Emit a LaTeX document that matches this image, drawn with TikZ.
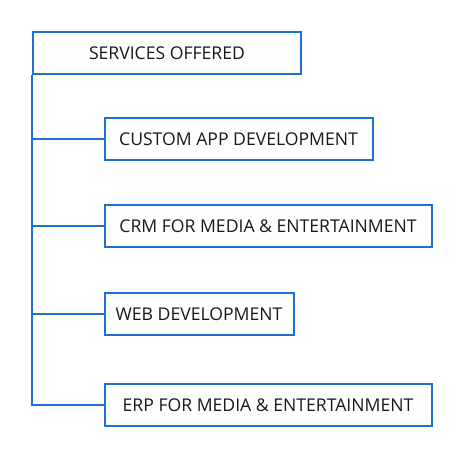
\documentclass[tikz,border=0pt]{standalone}
\usepackage{fontspec}
\setmainfont{Open Sans}
\definecolor{lineblue}{RGB}{30,112,210}
\begin{document}
\begin{tikzpicture}[x=1bp,y=-1bp,
  box/.style={draw=lineblue,line width=2bp,fill=white,minimum height=42bp,inner sep=0pt,
    font=\fontsize{17.6bp}{20bp}\selectfont,text=black!90},
  link/.style={draw=lineblue,line width=2bp}]
\useasboundingbox (0,0) rectangle (469,466);
\node[box,minimum width=268bp] (root) at (167,53) {SERVICES OFFERED};
\node[box,minimum width=268bp] (c1) at (238.5,139) {CUSTOM APP DEVELOPMENT};
\node[box,minimum width=327bp] (c2) at (268,226) {CRM FOR MEDIA \& ENTERTAINMENT};
\node[box,minimum width=189bp] (c3) at (199,314) {WEB DEVELOPMENT};
\node[box,minimum width=327bp] (c4) at (268,405) {ERP FOR MEDIA \& ENTERTAINMENT};
\coordinate (top) at (root.south west);
\draw[link] (top) |- (c4.west);
\draw[link] (top |- c1.west) -- (c1.west);
\draw[link] (top |- c2.west) -- (c2.west);
\draw[link] (top |- c3.west) -- (c3.west);
\end{tikzpicture}
\end{document}
